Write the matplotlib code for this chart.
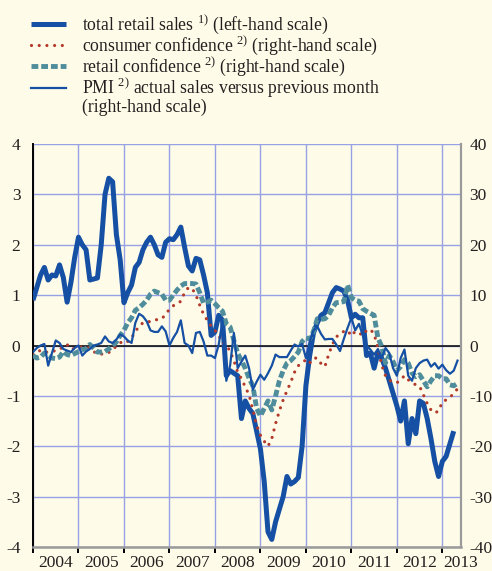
import numpy as np
import matplotlib.pyplot as plt
from matplotlib.lines import Line2D

plt.rcParams['font.family'] = ['Liberation Serif', 'DejaVu Serif']
plt.rcParams['mathtext.fontset'] = 'custom'
plt.rcParams['mathtext.rm'] = 'Liberation Serif'
plt.rcParams['axes.unicode_minus'] = False

# monthly series from Jan 2004
retail_sales = [
    0.9, 1.15, 1.4, 1.55, 1.3, 1.4, 1.38, 1.6, 1.35, 0.86, 1.25, 1.75,
    2.15, 2.0, 1.9, 1.3, 1.32, 1.34, 2.0, 3.0, 3.32, 3.25, 2.2, 1.7,
    0.85, 1.05, 1.2, 1.55, 1.65, 1.9, 2.05, 2.15, 2.0, 1.8, 1.75, 2.05,
    2.12, 2.1, 2.2, 2.35, 1.95, 1.58, 1.48, 1.73, 1.7, 1.4, 1.05, 0.2,
    0.27, 0.6, 0.5, -0.6, -0.5, -0.55, -0.6, -1.45, -1.1, -1.25, -1.35, -1.7,
    -2.05, -2.7, -3.7, -3.85, -3.5, -3.25, -3.0, -2.6, -2.75, -2.7, -2.62, -2.0,
    -0.8, -0.2, 0.25, 0.45, 0.6, 0.65, 0.85, 1.05, 1.15, 1.12, 1.08, 0.9,
    0.55, 0.62, 0.55, 0.55, -0.2, -0.15, -0.45, -0.15, -0.25, -0.45, -0.7, -0.95,
    -1.2, -1.5, -1.1, -1.95, -1.45, -1.75, -1.1, -1.15, -1.45, -1.85, -2.3, -2.6,
    -2.3, -2.2, -1.95, -1.7,
]
consumer_conf = [
    -1.8, -1.5, -0.9, -1.2, -1.4, -1.2, -1.0, -0.8, -0.2, 0.2, -0.7, -0.6,
    -0.3, -0.3, -0.3, -0.6, -1.2, -1.7, -1.7, -1.7, -1.4, -0.7, -0.2, 0.5,
    1.0, 0.8, 1.5, 2.8, 3.8, 4.5, 4.8, 4.7, 5.0, 5.2, 5.3, 6.2,
    7.2, 7.9, 8.2, 8.8, 10.5, 11.5, 11.3, 10.0, 8.0, 6.2, 5.0, 3.8,
    3.0, 2.0, 0.5, 0.2, -1.2, -3.0, -5.3, -6.6, -8.2, -9.8, -12.8, -15.8,
    -17.8, -19.0, -20.0, -18.5, -15.5, -13.0, -10.8, -9.0, -7.3, -5.3, -4.0, -3.5,
    -2.8, -3.5, -2.5, -2.5, -3.6, -4.2, -1.8, 0.2, 1.7, 2.3, 2.8, 3.0,
    1.9, 2.8, 2.5, 2.0, 3.0, 3.2, 2.3, -0.5, -3.9, -6.0, -6.9, -7.2,
    -7.4, -6.8, -6.0, -6.8, -7.4, -7.8, -8.1, -9.8, -11.5, -12.8, -13.4, -13.0,
    -11.2, -10.8, -10.3, -9.5, -8.6,
]
retail_conf = [
    -2.0, -2.5, -2.3, -1.5, -2.0, -2.5, -2.6, -2.3, -1.2, -1.8, -2.0, -1.6,
    -1.2, -0.8, -0.7, 0.2, -0.5, -1.3, -1.3, -1.2, -0.7, 0.0, 0.7, 2.0,
    3.0, 4.5, 5.5, 7.0, 7.5, 8.2, 9.0, 10.2, 10.8, 10.5, 10.2, 9.0,
    9.0, 10.0, 11.0, 11.8, 12.3, 12.3, 12.3, 12.2, 10.5, 8.4, 8.6, 9.0,
    8.3, 7.5, 6.8, 4.3, 3.7, 1.0, -1.5, -3.0, -4.5, -6.5, -8.0, -12.5,
    -14.0, -12.5, -11.0, -12.8, -10.0, -7.0, -5.0, -3.5, -3.0, -2.2, -1.3, 0.8,
    1.5, 1.3, 2.8, 5.3, 5.2, 5.3, 6.0, 7.5, 8.5, 8.6, 8.7, 12.0,
    9.5, 9.0, 8.8, 7.3, 6.8, 6.4, 6.0, 1.5, -0.2, -3.5, -2.0, -3.2,
    -5.0, -4.2, -2.8, -3.5, -5.5, -6.2, -5.8, -7.0, -8.2, -7.0, -6.0, -6.0,
    -6.6, -6.6, -7.8, -8.0, -7.5,
]
pmi_sales = [
    -1.3, -0.5, 0.0, 0.3, -4.0, -1.5, 1.0, 0.5, -0.7, -1.0, -1.3, -0.5,
    0.0, -2.0, -1.2, -0.7, 0.0, 0.2, 0.5, 1.8, 0.8, 0.5, 1.2, 2.2,
    1.8, 1.0, 0.5, 4.5, 6.3, 5.8, 4.8, 3.0, 2.7, 2.7, 3.8, 2.8,
    0.0, 1.5, 2.7, 5.0, 0.5, 0.0, -1.5, 2.5, 2.7, 0.8, -2.0, -2.0,
    -2.5, 0.2, 5.0, -7.0, -4.0, 2.5, -4.5, -3.2, -2.0, -4.5, -8.8, -7.2,
    -5.8, -6.8, -5.5, -4.0, -1.8, -2.3, -2.3, -2.3, -1.0, 0.2, -0.2, 0.3,
    -2.5, 0.8, 3.0, 3.8, 2.3, 1.2, 1.3, 1.3, 0.2, -1.1, 1.3, 3.5,
    5.5, 3.0, 4.3, 2.0, 0.0, -0.8, -1.8, -0.7, -2.5, -0.5, -1.5, -4.5,
    -6.0, -2.5, -0.8, -6.0, -7.0, -4.5, -3.5, -3.0, -2.8, -4.2, -3.5, -4.6,
    -3.8, -4.9, -5.6, -5.0, -3.0,
]
years = [str(y) for y in range(2004, 2014)]
year_label_pos = [2004.5 + k for k in range(9)] + [2013.4]

legend_labels = [
    ['total retail sales $^{\\mathrm{1)}}$ (left-hand scale)'],
    ['consumer confidence $^{\\mathrm{2)}}$ (right-hand scale)'],
    ['retail confidence $^{\\mathrm{2)}}$ (right-hand scale)'],
    ['PMI $^{\\mathrm{2)}}$ actual sales versus previous month', '(right-hand scale)'],
]

bg = '#FEFCE8'
blue = '#1650A4'
red = '#B3392B'
teal = '#4F8D9C'
grid_col = '#97A2E6'
text_col = '#231F20'


def months(vals):
    return 2004 + np.arange(len(vals)) / 12


styles = [
    dict(color=blue, lw=3.6, solid_joinstyle='round', solid_capstyle='butt'),
    dict(color=red, lw=2.3, linestyle=(0, (0.01, 2.4)), dash_capstyle='round'),
    dict(color=teal, lw=3.5, linestyle=(0, (1.4, 0.6)), dash_capstyle='butt'),
    dict(color=blue, lw=1.6, solid_joinstyle='round'),
]

fig = plt.figure(figsize=(4.92, 5.71), dpi=100, facecolor=bg)
ax = fig.add_axes([33 / 492, 24 / 571, 428 / 492, 403 / 571])
ax.set_facecolor(bg)
ax2 = ax.twinx()

# left scale: total retail sales
ax.plot(months(retail_sales), retail_sales, **styles[0], zorder=3)
ax.axhline(0, color='black', lw=1.1, zorder=2)
ax.set_xlim(2004, 2013.41)
ax.set_ylim(-4, 4)
ax.set_yticks(range(-4, 5))
ax.set_xticks(range(2004, 2014))
ax.set_xticklabels([])
ax.set_xticks(year_label_pos, minor=True)
ax.set_xticklabels(years, minor=True)
ax.grid(True, color=grid_col, lw=1.0, zorder=0)
ax.set_axisbelow(True)
ax.tick_params(axis='x', which='major', direction='out', length=4, width=1.4, color='black')
ax.tick_params(axis='x', which='minor', length=0, pad=6, labelsize=12.5, labelcolor=text_col)
ax.tick_params(axis='y', length=0, pad=9, labelsize=12.5, labelcolor=text_col)
for s in ['top', 'right']:
    ax.spines[s].set_visible(False)
ax.spines['left'].set_color('black')
ax.spines['left'].set_linewidth(1.4)
ax.spines['bottom'].set_color('#9A9A9A')
ax.spines['bottom'].set_linewidth(1.8)

# right scale: confidence indicators and PMI
ax2.plot(months(consumer_conf), consumer_conf, **styles[1])
ax2.plot(months(retail_conf), retail_conf, **styles[2])
ax2.plot(months(pmi_sales), pmi_sales, **styles[3])
ax2.set_ylim(-40, 40)
ax2.set_yticks(range(-40, 41, 10))
ax2.tick_params(axis='y', length=0, pad=6, labelsize=12.5, labelcolor=text_col)
for s in ['top', 'left', 'bottom']:
    ax2.spines[s].set_visible(False)
ax2.spines['right'].set_color('#9A9A9A')
ax2.spines['right'].set_linewidth(1.6)

# legend block above the plot
rows = [24, 45, 66, 88]
for st, lines, y in zip(styles, legend_labels, rows):
    yf = 1 - y / 571
    fig.add_artist(Line2D([31 / 492, 66 / 492], [yf, yf], transform=fig.transFigure, **st))
    for k, txt in enumerate(lines):
        fig.text(82 / 492, 1 - (y + 19.5 * k) / 571, txt, fontsize=12.7,
                 color=text_col, va='center')

fig.savefig('out.png', dpi=100, facecolor=bg)
